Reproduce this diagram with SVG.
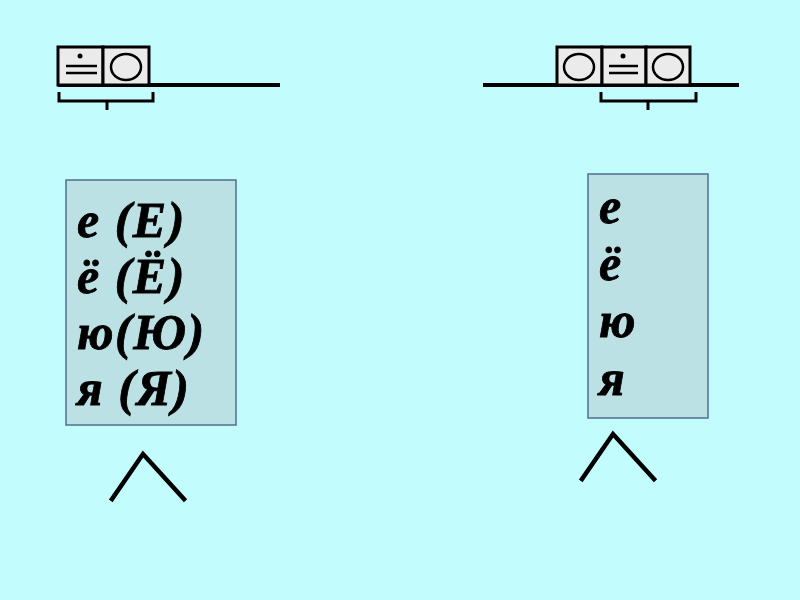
<svg xmlns="http://www.w3.org/2000/svg" width="800" height="600" viewBox="0 0 800 600">
<style>
.bg{fill:#C2FCFC}
.cell{fill:#EBEBEB;stroke:#000;stroke-width:3}
.ln{stroke:#000;stroke-width:4;fill:none}
.br{stroke:#000;stroke-width:3;fill:none}
.ov{fill:none;stroke:#000;stroke-width:2.5}
.eq{stroke:#000;stroke-width:2.5}
.panel{fill:#BCE1E5;stroke:#4F6F8F;stroke-width:1.5}
.t{font-family:"Liberation Serif","DejaVu Serif",serif;font-weight:bold;font-style:italic;font-size:50px;fill:#000;stroke:#000;stroke-width:0.8;letter-spacing:1.5px}
.caret{stroke:#000;stroke-width:4.5;fill:none;stroke-linecap:square}
</style>
<rect class="bg" x="0" y="0" width="800" height="600"/>
<g id="scheme-left">
  <line class="ln" x1="58" y1="85" x2="280" y2="85"/>
  <rect class="cell" x="58" y="47" width="45" height="38"/>
  <rect class="cell" x="103" y="47" width="46" height="38"/>
  <circle cx="80" cy="56" r="2.5"/>
  <line class="eq" x1="66" y1="66" x2="97" y2="66"/>
  <line class="eq" x1="66" y1="73" x2="97" y2="73"/>
  <ellipse class="ov" cx="126" cy="67" rx="15" ry="13"/>
  <polyline class="br" points="59,92 59,101 153,101 153,92"/>
  <line class="br" x1="107" y1="101" x2="107" y2="110"/>
</g>
<g id="scheme-right">
  <line class="ln" x1="483" y1="85" x2="739" y2="85"/>
  <rect class="cell" x="557" y="47" width="45" height="38"/>
  <rect class="cell" x="602" y="47" width="44" height="38"/>
  <rect class="cell" x="646" y="47" width="44" height="38"/>
  <ellipse class="ov" cx="579" cy="67" rx="15" ry="13"/>
  <circle cx="623" cy="56" r="2.5"/>
  <line class="eq" x1="609" y1="66" x2="638" y2="66"/>
  <line class="eq" x1="609" y1="73" x2="638" y2="73"/>
  <ellipse class="ov" cx="668" cy="67" rx="15" ry="13"/>
  <polyline class="br" points="601,92 601,101 696,101 696,92"/>
  <line class="br" x1="648" y1="101" x2="648" y2="110"/>
</g>
<g id="panel-left">
  <rect class="panel" x="66" y="180" width="170" height="245"/>
  <text class="t" x="77" y="237">е (Е)</text>
  <text class="t" x="77" y="293">ё (Ё)</text>
  <text class="t" x="77" y="349">ю(Ю)</text>
  <text class="t" x="77" y="405">я (Я)</text>
</g>
<g id="panel-right">
  <rect class="panel" x="588" y="174" width="120" height="244"/>
  <text class="t" x="599" y="223">е</text>
  <text class="t" x="599" y="280">ё</text>
  <text class="t" x="599" y="337">ю</text>
  <text class="t" x="599" y="395">я</text>
</g>
<g id="connectors">
  <polyline class="caret" points="112,499 143,454 184,499"/>
  <polyline class="caret" points="582,479 613,434 654,479"/>
</g>
</svg>
